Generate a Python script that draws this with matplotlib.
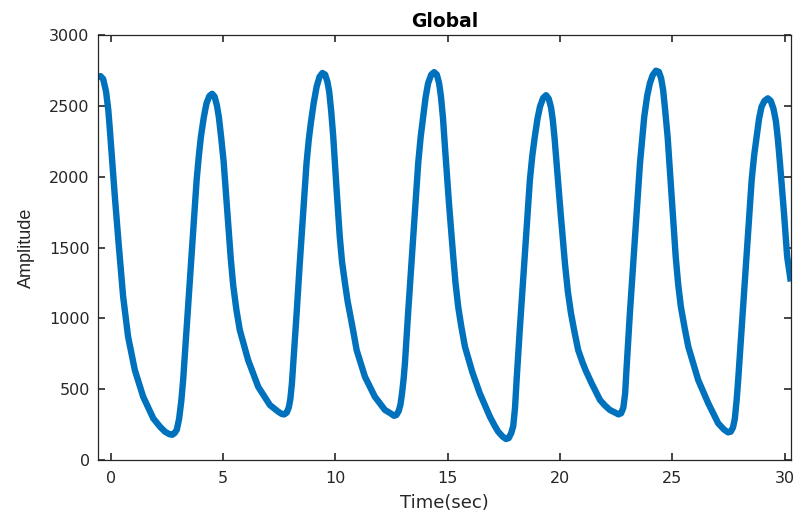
import matplotlib
matplotlib.use("Agg")
import matplotlib.pyplot as plt

# values (time in sec, amplitude)
time_sec = [-0.56, -0.45, -0.33, -0.2, -0.1, -0.03, 0.08, 0.19, 0.37, 0.56, 0.78, 1.08, 1.45,
            1.9, 2.2, 2.42, 2.62, 2.74, 2.85, 2.95, 3.05, 3.15, 3.23, 3.38, 3.53, 3.68,
            3.83, 3.93, 4.02, 4.15, 4.27, 4.4, 4.52, 4.63, 4.73, 4.82, 4.92, 5.03, 5.22,
            5.35, 5.46, 5.6, 5.75, 6.12, 6.57, 7.09, 7.46, 7.62, 7.73, 7.84, 7.93, 8.0,
            8.07, 8.13, 8.28, 8.42, 8.57, 8.72, 8.82, 8.91, 9.04, 9.17, 9.3, 9.43, 9.55,
            9.65, 9.73, 9.82, 9.91, 10.06, 10.2, 10.3, 10.43, 10.55, 10.67, 10.8, 10.95,
            11.32, 11.76, 12.21, 12.45, 12.62, 12.72, 12.82, 12.9, 12.97, 13.04, 13.1,
            13.24, 13.39, 13.54, 13.69, 13.8, 13.91, 14.02, 14.13, 14.27, 14.4, 14.52,
            14.62, 14.7, 14.79, 14.88, 15.06, 15.25, 15.35, 15.47, 15.6, 15.77, 16.1,
            16.43, 16.88, 17.1, 17.25, 17.45, 17.6, 17.72, 17.83, 17.92, 18.0, 18.07,
            18.21, 18.36, 18.51, 18.66, 18.77, 18.88, 19.0, 19.11, 19.25, 19.38, 19.5,
            19.6, 19.68, 19.76, 19.85, 20.03, 20.22, 20.35, 20.49, 20.65, 20.81, 21.0,
            21.15, 21.41, 21.78, 22.0, 22.22, 22.45, 22.6, 22.72, 22.82, 22.9, 22.96,
            23.11, 23.26, 23.41, 23.56, 23.66, 23.75, 23.88, 24.0, 24.12, 24.27, 24.4,
            24.5, 24.59, 24.68, 24.79, 24.97, 25.15, 25.26, 25.38, 25.55, 25.71, 26.15,
            26.6, 27.04, 27.3, 27.48, 27.6, 27.7, 27.78, 27.86, 27.93, 28.08, 28.23,
            28.38, 28.53, 28.64, 28.75, 28.86, 28.97, 29.1, 29.25, 29.38, 29.5, 29.61,
            29.7, 29.79, 29.97, 30.11, 30.27]
amplitude = [2700, 2710, 2690, 2600, 2470, 2330, 2100, 1860, 1506, 1153, 870, 635, 447,
             294, 235, 200, 182, 178, 190, 215, 290, 420, 565, 918, 1271, 1624,
             1976, 2150, 2282, 2420, 2518, 2570, 2585, 2565, 2505, 2420, 2280, 2110, 1700,
             1420, 1230, 1060, 918, 706, 517, 388, 341, 325, 322, 335, 370, 430,
             540, 682, 1035, 1388, 1741, 2094, 2260, 2376, 2520, 2635, 2705, 2732, 2720,
             2670, 2600, 2460, 2282, 1906, 1576, 1400, 1250, 1120, 1020, 910, 776,
             588, 447, 353, 330, 312, 318, 345, 390, 470, 570, 682,
             1035, 1388, 1741, 2094, 2280, 2423, 2560, 2659, 2720, 2738, 2720,
             2660, 2570, 2420, 2212, 1812, 1435, 1250, 1082, 950, 800, 620,
             471, 306, 240, 200, 165, 148, 155, 190, 240, 370, 565,
             918, 1271, 1624, 1976, 2150, 2282, 2410, 2494, 2555, 2575, 2550,
             2490, 2400, 2270, 2094, 1741, 1388, 1190, 1035, 900, 776, 690,
             630, 541, 424, 385, 353, 335, 322, 330, 370, 470, 640,
             1035, 1388, 1741, 2094, 2270, 2423, 2570, 2659, 2715, 2748, 2740,
             2695, 2612, 2470, 2282, 1859, 1435, 1240, 1082, 930, 800, 565,
             400, 259, 215, 195, 200, 230, 290, 420, 565, 918, 1271,
             1624, 1976, 2150, 2282, 2410, 2494, 2535, 2553, 2535, 2480, 2390,
             2260, 2094, 1741, 1435, 1260]

x_ticks = [0, 5, 10, 15, 20, 25, 30]
y_ticks = [0, 500, 1000, 1500, 2000, 2500, 3000]

plt.rcParams['font.family'] = ['DejaVu Sans']

fig = plt.figure(figsize=(7.94, 5.11), dpi=100)
ax = fig.add_axes([0.1234, 0.0998, 0.8728, 0.8317])

ax.plot(time_sec, amplitude, color="#0072BD", linewidth=4.6,
        solid_joinstyle="round", solid_capstyle="butt")

ax.set_xlim(-0.56, 30.28)
ax.set_ylim(0, 3000)
ax.set_xticks(x_ticks)
ax.set_yticks(y_ticks)

for s in ax.spines.values():
    s.set_color("#262626")
    s.set_linewidth(0.9)
ax.tick_params(direction="in", length=5, width=1.2, color="#262626",
               labelcolor="#262626", labelsize=11.5, top=True, right=True)
ax.tick_params(axis="x", pad=8)
ax.tick_params(axis="y", pad=6)

ax.set_title("Global", fontsize=13.5, fontweight="bold", color="black", pad=6)
ax.set_xlabel("Time(sec)", fontsize=13, color="#262626", labelpad=6)
ax.set_ylabel("Amplitude", fontsize=13, color="#262626", labelpad=10,
              family=['Liberation Sans', 'DejaVu Sans'])

fig.savefig("out.png", dpi=100)
